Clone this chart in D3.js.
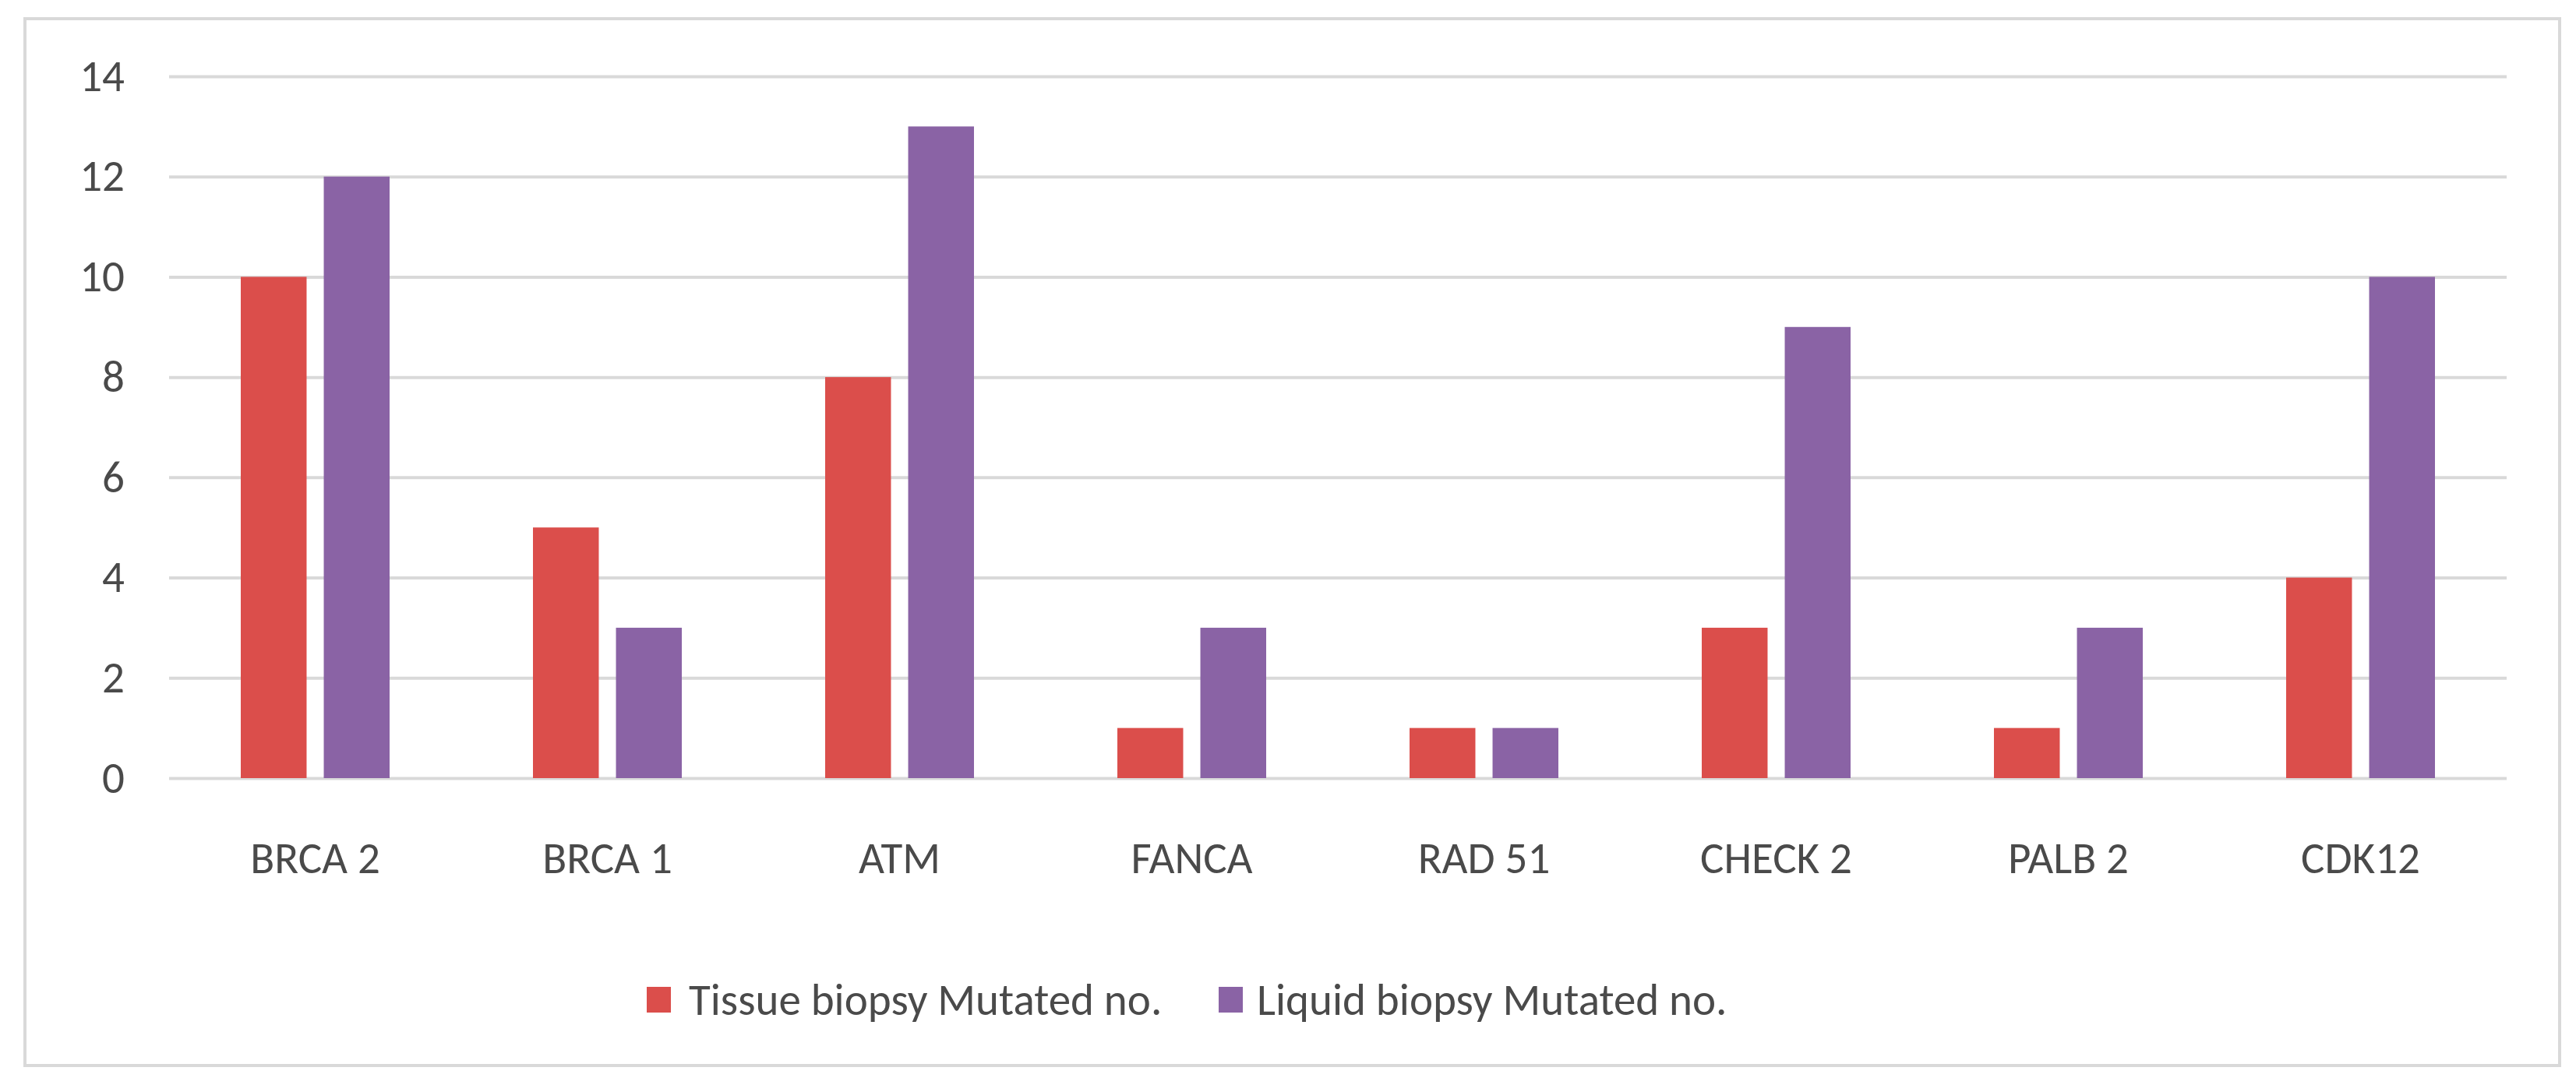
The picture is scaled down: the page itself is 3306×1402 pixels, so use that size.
<!DOCTYPE html>
<html>
<head>
<meta charset="utf-8">
<script src="https://cdn.jsdelivr.net/npm/d3@7"></script>
<style>
  html, body { margin: 0; padding: 0; background: #ffffff; }
  svg { display: block; }
  text { font-family: Carlito, Calibri, "Liberation Sans Narrow", "DejaVu Sans Condensed", "Liberation Sans", sans-serif; fill: #4a4a4a; }
</style>
</head>
<body>
<svg id="chart" width="3306" height="1402"></svg>
<script>
const categories = ["BRCA 2", "BRCA 1", "ATM", "FANCA", "RAD 51", "CHECK 2", "PALB 2", "CDK12"];
const seriesNames = ["Tissue biopsy Mutated no.", "Liquid biopsy Mutated no."];
const tissueValues = [10, 5, 8, 1, 1, 3, 1, 4];
const liquidValues = [12, 3, 13, 3, 1, 9, 3, 10];
const yTicks = [0, 2, 4, 6, 8, 10, 12, 14];
const seriesColors = ["#DB4E4B", "#8A63A5"];

const W = 3306, H = 1402;
const plot = { left: 217, right: 3217, top: 98, bottom: 999 };

const svg = d3.select("#chart");

// Outer frame
svg.append("rect")
  .attr("x", 32).attr("y", 24)
  .attr("width", 3285 - 32).attr("height", 1368 - 24)
  .attr("fill", "#ffffff")
  .attr("stroke", "#d9d9d9")
  .attr("stroke-width", 4);

const x0 = d3.scaleBand().domain(categories).range([plot.left, plot.right]).paddingInner(0).paddingOuter(0);
const x1 = d3.scaleBand().domain(seriesNames).range([92, 283]).paddingInner(0.207).paddingOuter(0);
const y = d3.scaleLinear().domain([0, 14]).range([plot.bottom, plot.top]);

// Gridlines + y labels via axis
const yAxis = d3.axisLeft(y).tickValues(yTicks).tickSize(-(plot.right - plot.left)).tickPadding(57).tickFormat(d3.format("d"));
const gy = svg.append("g").attr("transform", `translate(${plot.left},0)`).call(yAxis);
gy.select(".domain").remove();
gy.selectAll(".tick line").attr("stroke", "#d9d9d9").attr("stroke-width", 4);
gy.selectAll(".tick text").attr("font-size", 57).attr("fill", "#4a4a4a")
  .style("font-family", 'Carlito, Calibri, "Liberation Sans Narrow", "DejaVu Sans Condensed", sans-serif');

// Bars
const data = categories.map((c, i) => ({ cat: c, vals: [tissueValues[i], liquidValues[i]] }));
const groups = svg.append("g").selectAll("g").data(data).join("g")
  .attr("transform", d => `translate(${x0(d.cat) - plot.left + plot.left},0)`);
groups.selectAll("rect")
  .data(d => d.vals.map((v, j) => ({ name: seriesNames[j], v, j })))
  .join("rect")
  .attr("x", d => x1(d.name) - 0)
  .attr("y", d => y(d.v))
  .attr("width", x1.bandwidth())
  .attr("height", d => y(0) - y(d.v))
  .attr("fill", d => seriesColors[d.j]);
// shift groups so x1 offsets are relative to band start
groups.attr("transform", d => `translate(${x0(d.cat) - plot.left},0)`);
groups.selectAll("rect").attr("x", d => plot.left + x1(d.name));

// X axis labels
const xAxis = d3.axisBottom(x0).tickSize(0).tickPadding(0);
const gx = svg.append("g").attr("transform", `translate(0,${plot.bottom})`).call(xAxis);
gx.select(".domain").remove();
gx.selectAll(".tick text")
  .attr("y", 122).attr("dy", 0)
  .attr("font-size", 57).attr("fill", "#4a4a4a")
  .style("font-family", 'Carlito, Calibri, "Liberation Sans Narrow", "DejaVu Sans Condensed", sans-serif');

// Legend
const legendItems = [
  { name: seriesNames[0], color: seriesColors[0], mx: 830, tx: 884 },
  { name: seriesNames[1], color: seriesColors[1], mx: 1564, tx: 1613 }
];
const lg = svg.append("g");
legendItems.forEach(it => {
  lg.append("rect").attr("x", it.mx).attr("y", 1267).attr("width", 31).attr("height", 33).attr("fill", it.color);
  lg.append("text").attr("x", it.tx).attr("y", 1303).attr("font-size", 57).text(it.name);
});
</script>
</body>
</html>
